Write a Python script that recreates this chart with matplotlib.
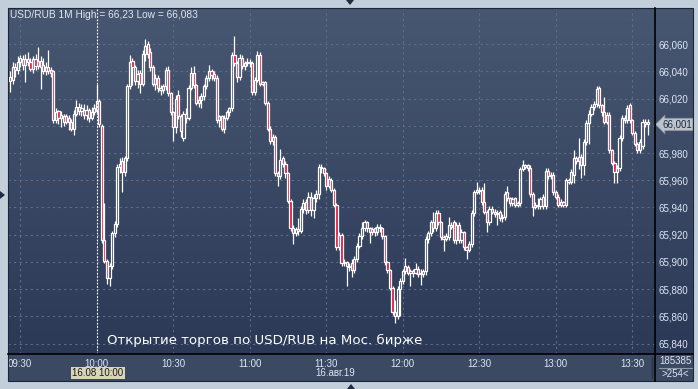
import numpy as np
import matplotlib.pyplot as plt
from matplotlib.patches import Rectangle, Polygon
from matplotlib.lines import Line2D
from matplotlib.colors import LinearSegmentedColormap
from matplotlib.transforms import blended_transform_factory

W, H = 698, 389

# one-minute USD/RUB bars, first bar at 09:26
first_bar = "09:26"
open_ = [66.036, 66.034, 66.043, 66.041, 66.047, 66.049, 66.045, 66.049, 66.047, 66.042,
         66.049, 66.044, 66.048, 66.045, 66.040, 66.043, 66.041, 66.040, 66.004, 66.011,
         66.006, 66.007, 66.003, 66.006, 66.003, 65.998, 66.009, 66.014, 66.011, 66.012,
         66.008, 66.012, 66.006, 66.010, 66.011, 66.018, 66.000, 65.916, 65.901, 65.888,
         65.897, 65.921, 65.928, 65.970, 65.974, 65.966, 65.976, 66.029, 66.048, 66.043,
         66.033, 66.039, 66.031, 66.053, 66.060, 66.054, 66.043, 66.031, 66.035, 66.028,
         66.026, 66.029, 66.041, 66.024, 66.010, 65.999, 66.023, 66.007, 65.991, 66.009,
         66.006, 66.028, 66.039, 66.030, 66.017, 66.019, 66.022, 66.029, 66.035, 66.040,
         66.038, 66.035, 66.004, 66.007, 65.998, 66.006, 66.010, 66.013, 66.052, 66.046,
         66.036, 66.050, 66.044, 66.046, 66.047, 66.046, 66.025, 66.034, 66.052, 66.031,
         66.032, 66.017, 65.998, 65.989, 65.992, 65.965, 65.963, 65.976, 65.972, 65.965,
         65.945, 65.925, 65.921, 65.924, 65.923, 65.939, 65.944, 65.938, 65.948, 65.938,
         65.947, 65.950, 65.970, 65.969, 65.965, 65.956, 65.960, 65.953, 65.942, 65.911,
         65.920, 65.899, 65.900, 65.897, 65.899, 65.894, 65.902, 65.912, 65.919, 65.925,
         65.929, 65.925, 65.922, 65.925, 65.922, 65.926, 65.925, 65.919, 65.900, 65.894,
         65.881, 65.863, 65.860, 65.880, 65.886, 65.893, 65.896, 65.892, 65.893, 65.892,
         65.895, 65.892, 65.891, 65.893, 65.917, 65.921, 65.929, 65.925, 65.936, 65.929,
         65.918, 65.917, 65.918, 65.927, 65.929, 65.916, 65.927, 65.916, 65.922, 65.911,
         65.909, 65.913, 65.936, 65.951, 65.953, 65.953, 65.944, 65.937, 65.929, 65.939,
         65.937, 65.935, 65.937, 65.932, 65.933, 65.951, 65.947, 65.943, 65.947, 65.942,
         65.943, 65.968, 65.971, 65.971, 65.969, 65.950, 65.940, 65.942, 65.941, 65.948,
         65.941, 65.967, 65.963, 65.964, 65.951, 65.948, 65.942, 65.944, 65.942, 65.960,
         65.959, 65.964, 65.976, 65.974, 65.977, 65.971, 65.988, 66.002, 66.009, 66.014,
         66.016, 66.028, 66.015, 66.010, 66.003, 66.008, 65.982, 65.973, 65.966, 65.969,
         65.991, 66.006, 66.004, 66.015, 66.004, 65.995, 65.987, 65.982, 65.985, 66.003,
         66.003]
high = [66.040, 66.047, 66.046, 66.051, 66.052, 66.052, 66.053, 66.054, 66.050, 66.051,
        66.053, 66.058, 66.051, 66.050, 66.047, 66.056, 66.043, 66.041, 66.013, 66.012,
        66.011, 66.009, 66.009, 66.008, 66.005, 66.012, 66.019, 66.017, 66.016, 66.016,
        66.015, 66.013, 66.014, 66.016, 66.031, 66.020, 66.001, 65.943, 65.902, 65.899,
        65.923, 65.930, 65.972, 65.976, 65.977, 65.978, 66.031, 66.052, 66.050, 66.045,
        66.041, 66.041, 66.056, 66.064, 66.062, 66.057, 66.045, 66.038, 66.037, 66.030,
        66.031, 66.043, 66.044, 66.025, 66.011, 66.023, 66.026, 66.009, 66.011, 66.013,
        66.030, 66.043, 66.044, 66.031, 66.022, 66.024, 66.031, 66.037, 66.045, 66.042,
        66.040, 66.037, 66.008, 66.008, 66.008, 66.012, 66.014, 66.054, 66.066, 66.048,
        66.053, 66.052, 66.048, 66.050, 66.049, 66.048, 66.036, 66.055, 66.054, 66.033,
        66.033, 66.018, 66.000, 65.994, 65.993, 65.967, 65.983, 65.978, 65.974, 65.966,
        65.946, 65.927, 65.926, 65.932, 65.941, 65.946, 65.946, 65.951, 65.951, 65.950,
        65.953, 65.972, 65.972, 65.970, 65.966, 65.963, 65.962, 65.954, 65.943, 65.922,
        65.921, 65.902, 65.901, 65.899, 65.902, 65.904, 65.914, 65.921, 65.929, 65.931,
        65.930, 65.926, 65.926, 65.926, 65.928, 65.928, 65.926, 65.920, 65.901, 65.895,
        65.882, 65.872, 65.882, 65.888, 65.895, 65.903, 65.898, 65.895, 65.895, 65.899,
        65.897, 65.895, 65.895, 65.919, 65.923, 65.931, 65.937, 65.938, 65.938, 65.930,
        65.920, 65.921, 65.933, 65.929, 65.931, 65.929, 65.929, 65.924, 65.923, 65.912,
        65.915, 65.938, 65.953, 65.959, 65.955, 65.955, 65.958, 65.938, 65.941, 65.941,
        65.939, 65.938, 65.938, 65.935, 65.952, 65.956, 65.948, 65.948, 65.948, 65.945,
        65.970, 65.975, 65.972, 65.972, 65.971, 65.951, 65.944, 65.947, 65.948, 65.950,
        65.969, 65.969, 65.966, 65.966, 65.953, 65.950, 65.946, 65.945, 65.962, 65.962,
        65.968, 65.982, 65.978, 65.991, 65.979, 65.990, 66.004, 66.012, 66.016, 66.018,
        66.029, 66.029, 66.016, 66.021, 66.010, 66.010, 65.983, 65.974, 65.971, 65.993,
        66.008, 66.008, 66.015, 66.017, 66.005, 65.996, 65.988, 65.990, 66.005, 66.005,
        66.005]
low = [66.025, 66.031, 66.036, 66.038, 66.043, 66.041, 66.032, 66.044, 66.040, 66.039,
       66.041, 66.042, 66.027, 66.038, 66.037, 66.038, 66.036, 66.002, 66.002, 66.001,
       65.999, 66.000, 66.001, 65.997, 65.996, 65.993, 66.007, 66.008, 66.007, 66.005,
       66.004, 66.003, 66.004, 66.008, 66.009, 65.999, 65.914, 65.899, 65.884, 65.882,
       65.895, 65.918, 65.926, 65.965, 65.951, 65.963, 65.974, 66.027, 66.030, 66.030,
       66.028, 66.024, 66.029, 66.048, 66.050, 66.040, 66.029, 66.026, 66.025, 66.023,
       66.024, 66.026, 66.022, 66.008, 65.989, 65.995, 66.005, 65.992, 65.989, 66.002,
       66.004, 66.026, 66.028, 66.015, 66.014, 66.013, 66.019, 66.027, 66.033, 66.034,
       66.033, 66.002, 65.999, 65.996, 65.995, 66.004, 66.007, 66.011, 66.044, 66.032,
       66.034, 66.042, 66.041, 66.044, 66.043, 66.023, 66.023, 66.032, 66.029, 66.029,
       66.015, 65.996, 65.987, 65.986, 65.963, 65.956, 65.961, 65.970, 65.962, 65.943,
       65.923, 65.913, 65.919, 65.920, 65.921, 65.936, 65.935, 65.936, 65.934, 65.932,
       65.944, 65.946, 65.965, 65.963, 65.953, 65.954, 65.951, 65.940, 65.909, 65.909,
       65.897, 65.897, 65.882, 65.893, 65.889, 65.892, 65.900, 65.910, 65.917, 65.923,
       65.922, 65.914, 65.920, 65.919, 65.920, 65.922, 65.917, 65.898, 65.892, 65.879,
       65.861, 65.855, 65.858, 65.860, 65.884, 65.891, 65.890, 65.882, 65.889, 65.891,
       65.889, 65.883, 65.889, 65.890, 65.914, 65.919, 65.922, 65.923, 65.927, 65.916,
       65.908, 65.915, 65.916, 65.924, 65.914, 65.913, 65.914, 65.914, 65.909, 65.902,
       65.907, 65.911, 65.934, 65.950, 65.950, 65.942, 65.935, 65.922, 65.927, 65.935,
       65.933, 65.927, 65.930, 65.929, 65.931, 65.945, 65.941, 65.941, 65.940, 65.940,
       65.941, 65.967, 65.968, 65.967, 65.948, 65.934, 65.939, 65.939, 65.939, 65.939,
       65.939, 65.961, 65.961, 65.949, 65.946, 65.940, 65.940, 65.940, 65.940, 65.957,
       65.957, 65.958, 65.972, 65.968, 65.962, 65.964, 65.986, 65.987, 66.007, 66.012,
       66.014, 66.013, 66.007, 66.001, 66.001, 65.980, 65.971, 65.958, 65.958, 65.967,
       65.989, 66.002, 66.002, 66.002, 65.993, 65.985, 65.980, 65.980, 65.983, 65.999,
       65.993]
close = [66.033, 66.043, 66.041, 66.047, 66.050, 66.045, 66.049, 66.047, 66.042, 66.049,
         66.044, 66.048, 66.043, 66.040, 66.043, 66.040, 66.039, 66.004, 66.010, 66.006,
         66.008, 66.003, 66.007, 66.003, 65.998, 66.009, 66.014, 66.011, 66.013, 66.008,
         66.012, 66.006, 66.010, 66.013, 66.018, 66.001, 65.916, 65.901, 65.888, 65.897,
         65.921, 65.928, 65.970, 65.972, 65.966, 65.976, 66.029, 66.047, 66.043, 66.033,
         66.038, 66.031, 66.053, 66.059, 66.053, 66.043, 66.031, 66.035, 66.028, 66.026,
         66.029, 66.041, 66.024, 66.010, 65.999, 66.020, 66.007, 65.996, 66.009, 66.006,
         66.028, 66.039, 66.030, 66.017, 66.019, 66.022, 66.029, 66.035, 66.040, 66.037,
         66.035, 66.004, 66.007, 65.998, 66.006, 66.010, 66.013, 66.052, 66.046, 66.036,
         66.050, 66.044, 66.046, 66.047, 66.046, 66.025, 66.034, 66.052, 66.031, 66.032,
         66.017, 65.998, 65.989, 65.992, 65.965, 65.963, 65.975, 65.972, 65.965, 65.945,
         65.925, 65.921, 65.924, 65.923, 65.939, 65.943, 65.938, 65.948, 65.938, 65.947,
         65.950, 65.970, 65.969, 65.965, 65.956, 65.961, 65.953, 65.942, 65.911, 65.920,
         65.899, 65.900, 65.897, 65.896, 65.894, 65.902, 65.912, 65.919, 65.925, 65.929,
         65.925, 65.922, 65.924, 65.922, 65.926, 65.925, 65.919, 65.900, 65.894, 65.881,
         65.863, 65.860, 65.880, 65.886, 65.893, 65.897, 65.892, 65.893, 65.892, 65.895,
         65.891, 65.891, 65.893, 65.917, 65.921, 65.929, 65.925, 65.936, 65.929, 65.918,
         65.917, 65.919, 65.927, 65.926, 65.916, 65.927, 65.916, 65.922, 65.911, 65.909,
         65.913, 65.936, 65.951, 65.953, 65.952, 65.944, 65.937, 65.929, 65.939, 65.937,
         65.935, 65.936, 65.932, 65.933, 65.950, 65.947, 65.943, 65.946, 65.942, 65.943,
         65.968, 65.971, 65.970, 65.969, 65.950, 65.940, 65.942, 65.941, 65.946, 65.941,
         65.967, 65.963, 65.964, 65.951, 65.948, 65.942, 65.944, 65.942, 65.960, 65.959,
         65.966, 65.976, 65.974, 65.977, 65.971, 65.988, 66.002, 66.009, 66.014, 66.016,
         66.027, 66.015, 66.010, 66.003, 66.008, 65.982, 65.973, 65.966, 65.969, 65.991,
         66.006, 66.004, 66.013, 66.004, 65.995, 65.987, 65.982, 65.988, 66.003, 66.001,
         66.001]

time_labels = ["09:30", "10:00", "10:30", "11:00", "11:30", "12:00", "12:30", "13:00", "13:30"]
price_ticks = [65.84, 65.86, 65.88, 65.90, 65.92, 65.94, 65.96, 65.98, 66.00, 66.02, 66.04, 66.06]
last_price = 66.001
header = "USD/RUB 1M High = 66,23 Low = 66,083"
note = "Открытие торгов по USD/RUB на Мос. бирже"
cursor_time = "10:00"
cursor_label = "16.08 10:00"
date_label = "16.авг.19"
volume_label = "185385"
bars_label = ">254<"

RED = "#e8143c"
LIGHT = "#dde6f3"
SMALL = ["Liberation Sans", "DejaVu Sans"]


def minute(s):
    h, m = s.split(":")
    return int(h) * 60 + int(m) - 540


def fig_box(x0, y0, x1, y1):
    # pixel box (top-left origin) -> figure fractions
    return [x0 / W, 1 - y1 / H, (x1 - x0) / W, (y1 - y0) / H]


def px(x, y):
    return x / W, 1 - y / H


fig = plt.figure(figsize=(W / 100, H / 100), dpi=100, facecolor="#c3cedb")

# time scale band (drawn below the axes so the tick labels stay visible)
fig.add_artist(Rectangle(px(8, 381), 685 / W, 27 / H, transform=fig.transFigure,
                         facecolor="#3c4963", edgecolor="none", zorder=-1))

# dark gradient behind the price area and the right scale
bg = fig.add_axes(fig_box(8, 8, 693, 354))
cmap = LinearSegmentedColormap.from_list("bg", ["#485771", "#2b3957"])
bg.imshow(np.linspace(0, 1, 256)[:, None], aspect="auto", cmap=cmap, extent=[0, 1, 0, 1])
bg.axis("off")

ax = fig.add_axes(fig_box(8, 8, 655, 354))
ax.set_facecolor("none")

t = minute(first_bar) + np.arange(len(close))
o, hi, lo, c = (np.array(a) for a in (open_, high, low, close))
top = np.maximum(o, c)
bot = np.minimum(o, c)
ax.vlines(t, top, hi, color="white", lw=0.9, zorder=3)
ax.vlines(t, lo, bot, color="white", lw=0.9, zorder=3)
faces = [RED if cc < oo else "none" for oo, cc in zip(o, c)]
ax.bar(t, top - bot, 0.85, bottom=bot, color=faces, edgecolor="white", lw=0.9, zorder=4)

ax.set_xlim(25.2, 278.9)
ax.set_ylim(65.8323, 66.0866)

ax.set_xticks([minute(s) for s in time_labels], time_labels)
ax.set_yticks(price_ticks, ["" if abs(v - 66.0) < 1e-9 else f"{v:.3f}".replace(".", ",")
                            for v in price_ticks])
ax.yaxis.tick_right()
ax.tick_params(axis="both", length=0, labelsize=7, labelcolor=LIGHT)
ax.tick_params(axis="x", pad=3.5)
ax.tick_params(axis="y", pad=2.5)
for lab in ax.get_xticklabels() + ax.get_yticklabels():
    lab.set_family(SMALL)
ax.grid(color="#5d6d8a", ls=(0, (2, 3)), lw=0.8)
ax.set_axisbelow(True)
for side in ["top", "left", "right", "bottom"]:
    ax.spines[side].set_visible(False)

# cursor line at the opening
ax.axvline(minute(cursor_time), color="white", lw=0.8, ls=(0, (1.5, 1.5)), zorder=2)

ax.text(2 / 647, 1 - 7 / 346, header, transform=ax.transAxes, va="center", ha="left",
        fontsize=7.3, color="#e2e6ee", family=SMALL)
ax.text((107 - 8) / 647, 1 - (340 - 8) / 346, note, transform=ax.transAxes,
        va="center", ha="left", fontsize=9.6, color="white")

# last price marker on the right scale
tr = blended_transform_factory(ax.transAxes, ax.transData)
ax.text(1.011, last_price, f"{last_price:.3f}".replace(".", ","), transform=tr,
        va="center", ha="left", fontsize=7, color="#1c2940", family=SMALL, zorder=10,
        bbox=dict(boxstyle="larrow,pad=0.12", facecolor="#bcc3cd", edgecolor="#8b93a0", lw=0.6))

# separator lines
fig.add_artist(Line2D([8 / W, 693 / W], [1 - 354 / H] * 2, color="black", lw=1.2))
fig.add_artist(Line2D([655 / W] * 2, [1 - 8 / H, 1 - 381 / H], color="black", lw=1.2))
fig.add_artist(Line2D([652 / W] * 2, [1 - 357 / H, 1 - 378 / H], color="#28324a", lw=1))
fig.add_artist(Line2D([659 / W, 692 / W], [1 - 367.5 / H] * 2, color="#8d97a8", lw=0.8))
fig.add_artist(Rectangle(px(8, 381), 685 / W, 373 / H, transform=fig.transFigure,
                         facecolor="none", edgecolor="#1d2638", lw=0.8))

# time scale extras
fig.text(*px(98, 373), cursor_label, ha="center", va="center", fontsize=7, color="#1a1a1a",
         family=SMALL, bbox=dict(boxstyle="square,pad=0.15", facecolor="#d9d6b8", edgecolor="none"))
fig.text(*px(315, 373), date_label, ha="left", va="center", fontsize=7, color=LIGHT, family=SMALL)
fig.text(*px(675, 361), volume_label, ha="center", va="center", fontsize=7, color=LIGHT, family=SMALL)
fig.text(*px(675, 374), bars_label, ha="center", va="center", fontsize=7, color=LIGHT, family=SMALL)

# window handles
for pts in ([(346, 0), (354, 0), (350, 5)], [(0, 191), (0, 199), (5, 195)],
            [(347, 389), (355, 389), (351, 384)]):
    fig.add_artist(Polygon([px(x, y) for x, y in pts], closed=True, transform=fig.transFigure,
                           facecolor="#1f2b42", edgecolor="none"))

fig.savefig("out.png", dpi=100, facecolor=fig.get_facecolor())
